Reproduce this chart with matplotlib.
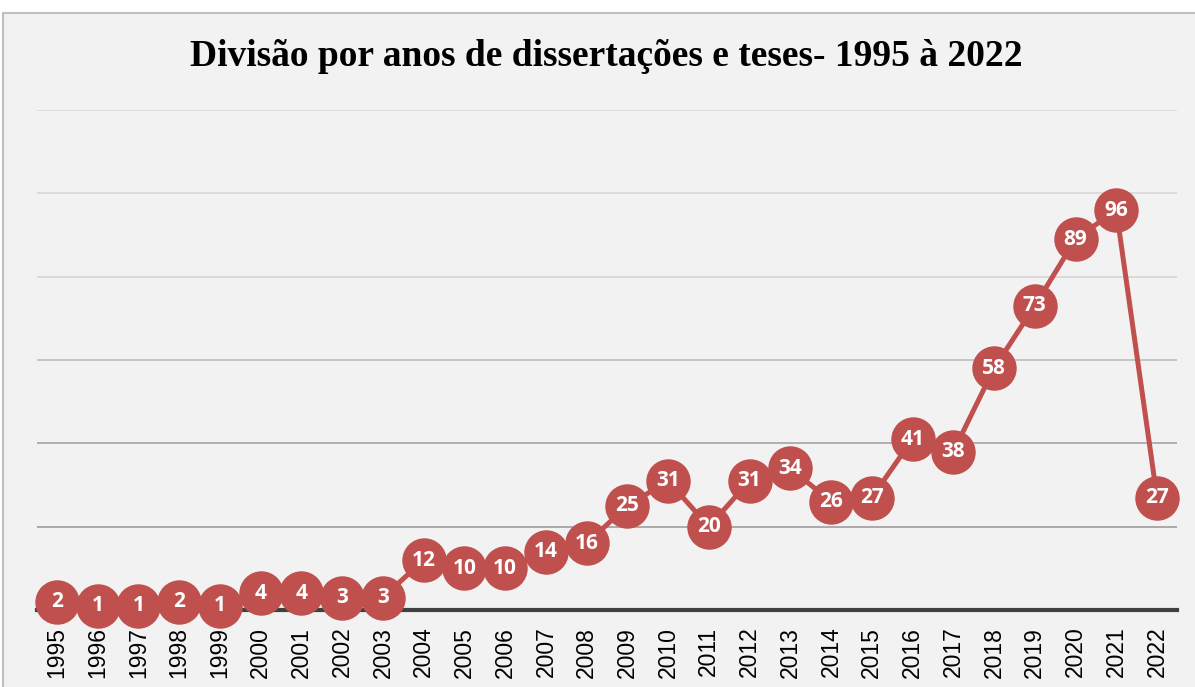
import matplotlib.pyplot as plt
from matplotlib.patches import Rectangle

# data
years = [str(y) for y in range(1995, 2023)]
counts = [2, 1, 1, 2, 1, 4, 4, 3, 3, 12, 10, 10, 14, 16, 25, 31, 20, 31, 34, 26,
          27, 41, 38, 58, 73, 89, 96, 27]
title = 'Divisão por anos de dissertações e teses- 1995 à 2022'
grid_vals = [20, 40, 60, 80, 100, 120]

red = '#c0504d'
# the gridlines get lighter towards the top in the original
grid_cols = ['#a4a4a4', '#aaaaaa', '#c2c2c2', '#d8d8d8', '#dadada', '#dcdcdc']

fig = plt.figure(figsize=(11.95, 6.87), dpi=100)
fig.patch.set_facecolor('white')

# chart panel (grey background with border)
W, H = 1195, 687
panel = Rectangle((3 / W, -0.05), 1.2, (H - 13) / H + 0.05, transform=fig.transFigure,
                  facecolor='#f2f2f2', edgecolor='#bfbfbf', linewidth=1.5, zorder=-1)
fig.patches.append(panel)

ax = fig.add_axes([36.6 / W, (H - 610) / H, (1177.4 - 36.6) / W, 500 / H])
ax.set_facecolor('none')

for gv, gc in zip(grid_vals, grid_cols):
    ax.axhline(gv, color=gc, linewidth=1.3, zorder=1)

x = range(len(years))
ax.plot(x, counts, color=red, linewidth=3.6, marker='o', markersize=32,
        markerfacecolor=red, markeredgewidth=0, zorder=3, clip_on=False)
for xi, v in zip(x, counts):
    ax.text(xi, v, str(v), ha='center', va='center', color='white',
            fontsize=15, fontweight='bold', family='Open Sans', zorder=4)

ax.set_xlim(-0.5, len(years) - 0.5)
ax.set_ylim(0, 120)
ax.set_yticks([])
ax.set_xticks(list(x))
ax.set_xticklabels(years, rotation=90, fontsize=16.5, family='Liberation Sans')
ax.tick_params(axis='x', length=0, pad=12)

for s in ['top', 'right', 'left']:
    ax.spines[s].set_visible(False)
ax.spines['bottom'].set_color('#404040')
ax.spines['bottom'].set_linewidth(3)
ax.spines['bottom'].set_zorder(2)

fig.text(606 / W, 1 - 57 / H, title, ha='center', va='center', fontsize=27,
         fontweight='bold', family='Liberation Serif')

fig.savefig('out.png', dpi=100)
